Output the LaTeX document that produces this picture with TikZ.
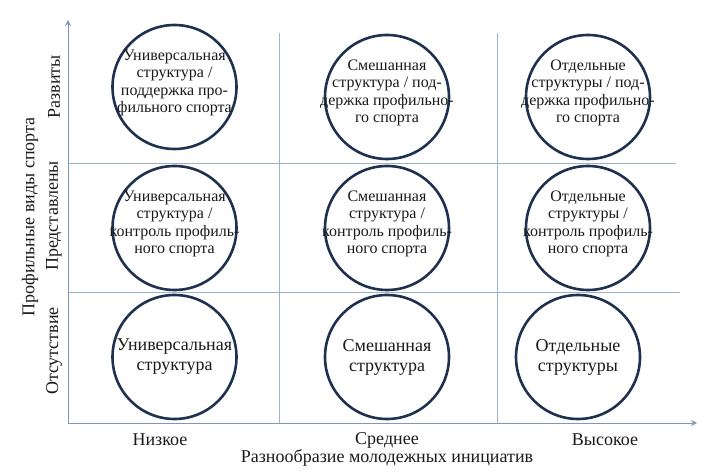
\documentclass[tikz,border=0pt]{standalone}
\usepackage{fontspec}
\setmainfont{Liberation Serif}
\usetikzlibrary{arrows.meta}
\definecolor{axisblue}{HTML}{7E97BC}
\definecolor{gridblue}{HTML}{9DB0CC}
\definecolor{circblue}{HTML}{1E3250}
\definecolor{txt}{HTML}{1A1A1A}
\tikzset{
  circ/.style={circle, draw=circblue, line width=2.6pt, minimum size=124pt, inner sep=0pt, fill=white},
  ctext/.style={align=center, text=txt, font=\fontsize{16}{17.6}\selectfont, inner sep=0pt},
  btext/.style={align=center, text=txt, font=\fontsize{18}{20}\selectfont, inner sep=0pt},
  lab/.style={text=txt, font=\fontsize{18}{20}\selectfont, inner sep=0pt},
  axis/.style={draw=axisblue, line width=0.9pt, -{Stealth[length=6pt,width=6pt]}},
  gridl/.style={draw=gridblue, line width=0.8pt},
}
\begin{document}
\begin{tikzpicture}[x=1pt,y=-1pt]
\useasboundingbox (0,0) rectangle (713,473);
% axes
\coordinate (O) at (68,423);
\coordinate (ytop) at (68,20);
\coordinate (xend) at (697,423);
\draw[axis] (O) -- (ytop);
\draw[axis] (O) -- (xend);
% grid
\coordinate (h1a) at (68,163); \coordinate (h1b) at (676,163);
\coordinate (h2a) at (68,292); \coordinate (h2b) at (680,292);
\coordinate (v1a) at (279,33); \coordinate (v1b) at (279,423);
\coordinate (v2a) at (497,33); \coordinate (v2b) at (497,423);
\draw[gridl] (h1a) -- (h1b);
\draw[gridl] (h2a) -- (h2b);
\draw[gridl] (v1a) -- (v1b);
\draw[gridl] (v2a) -- (v2b);
% circles
\node[circ] (c11) at (174.5,87) {};
\node[circ] (c12) at (387,97) {};
\node[circ] (c13) at (588,97) {};
\node[circ] (c21) at (174.5,228) {};
\node[circ] (c22) at (387,228) {};
\node[circ] (c23) at (588,228) {};
\node[circ] (c31) at (174.5,357) {};
\node[circ] (c32) at (387,357) {};
\node[circ] (c33) at (578,357) {};
% circle texts
\node[ctext] (t11) at ([yshift=4pt]c11.center) {Универсальная\\структура /\\поддержка про-\\фильного спорта};
\node[ctext] (t12) at ([yshift=4pt]c12.center) {Смешанная\\структура / под-\\держка профильно-\\го спорта};
\node[ctext] (t13) at ([yshift=4pt]c13.center) {Отдельные\\структуры / под-\\держка профильно-\\го спорта};
\node[ctext] (t21) at ([yshift=4pt]c21.center) {Универсальная\\структура /\\контроль профиль-\\ного спорта};
\node[ctext] (t22) at ([yshift=4pt]c22.center) {Смешанная\\структура /\\контроль профиль-\\ного спорта};
\node[ctext] (t23) at ([yshift=4pt]c23.center) {Отдельные\\структуры /\\контроль профиль-\\ного спорта};
\node[btext] (t31) at (c31.center) {Универсальная\\структура};
\node[btext] (t32) at (c32.center) {Смешанная\\структура};
\node[btext] (t33) at (c33.center) {Отдельные\\структуры};
% axis labels
\node[lab] (xl1) at (160,440) {Низкое};
\node[lab] (xl2) at (387,440) {Среднее};
\node[lab] (xl3) at (605,440) {Высокое};
\node[lab] (xt) at (387,458) {Разнообразие молодежных инициатив};
\node[lab, rotate=90] (yl1) at (54,87) {Развиты};
\node[lab, rotate=90] (yl2) at (54,216) {Представлены};
\node[lab, rotate=90] (yl3) at (54,351) {Отсутствие};
\node[lab, rotate=90] (yt) at (30,217) {Профильные виды спорта};
\end{tikzpicture}
\end{document}
